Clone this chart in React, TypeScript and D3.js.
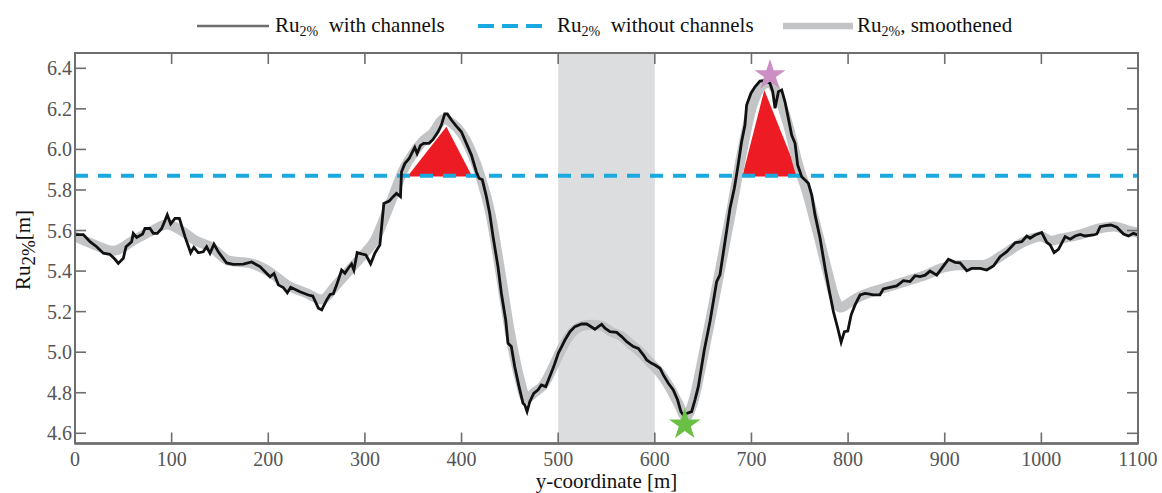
import React, { useRef, useEffect } from "react";
import * as d3 from "d3";

// y-coordinate [m] along the profile and Ru2% with channels [m]
const yCoord = [
  0, 8.6, 15.5, 22.4, 29.3, 36, 41.4, 44.8, 50, 52.8, 58.6, 60.3, 63.8, 70, 72.4, 77.6, 81, 85.2, 89.7, 95.5,
  99, 103.5, 108, 113.8, 119.7, 123, 127.6, 132.7, 136.2, 139.7, 143.8, 148.3, 156.9, 163.8, 174.2, 182.8, 191.4, 201.8, 205.9, 210.4,
  215.5, 219.7, 223.2, 232.8, 241.4, 246, 251.9, 255.3, 260.5, 264, 267.3, 270.8, 275.9, 279.3, 282.8, 286.2, 288.6, 292, 296.5, 301,
  305.9, 310.3, 315.5, 319.6, 325.1, 329.2, 332.7, 336.8, 337.9, 341.3, 345.8, 349.2, 351.6, 354, 357.5, 360.9, 366.4, 370.5, 375.7, 379.1,
  382.6, 385.3, 389.5, 394.6, 399.8, 405, 410.2, 415.3, 418.1, 421.5, 425.7, 429.1, 432.6, 437.7, 441.2, 445.7, 448.1, 451.5, 455, 459.5,
  463.6, 465.4, 467.8, 470.6, 474.7, 479.2, 482.6, 487.1, 491.2, 495.4, 500.1, 503.6, 507, 512.2, 517.3, 524.2, 529.4, 532.9, 538, 541.5,
  545, 548.4, 553.6, 560.5, 565.7, 570.9, 577.8, 582.9, 588.1, 591.6, 596.7, 600.2, 605.3, 608.8, 614, 619.1, 623.6, 627, 629.5, 632.9,
  638.1, 641.5, 645, 651.2, 657.1, 664, 667.4, 672.6, 677.8, 682.3, 685.7, 689.8, 693.3, 695, 699.5, 703.7, 708.8, 714, 719.2, 722,
  724.4, 727.9, 731.3, 734.7, 738.2, 741.6, 745.1, 747.8, 752, 758.9, 762.4, 765.8, 771, 776.2, 780.7, 784.8, 789.3, 792.8, 796.2, 799.7,
  803.1, 807.2, 812.4, 817.5, 820.9, 826.1, 833, 836.5, 843.4, 850.3, 857.2, 864.1, 869.3, 874.5, 879.7, 884.8, 891.7, 903.8, 910.7, 915.9,
  922.8, 928, 936.6, 943.5, 950.4, 957.3, 964.2, 972.8, 979.7, 984.9, 988.3, 993.5, 1000.4, 1005.6, 1009.1, 1013.2, 1017.7, 1024.6, 1029.8, 1035,
  1040.2, 1045.3, 1054, 1057.4, 1060.9, 1066, 1071.9, 1078.1, 1085, 1090.2, 1095.3, 1100,
];
const ruWith = [
  5.58, 5.58, 5.545, 5.52, 5.488, 5.483, 5.458, 5.438, 5.463, 5.52, 5.545, 5.586, 5.566, 5.583, 5.61, 5.61, 5.586, 5.586, 5.61, 5.677,
  5.633, 5.66, 5.66, 5.57, 5.49, 5.517, 5.49, 5.495, 5.52, 5.488, 5.533, 5.495, 5.44, 5.433, 5.434, 5.445, 5.422, 5.372, 5.388, 5.332,
  5.319, 5.293, 5.32, 5.298, 5.282, 5.277, 5.217, 5.209, 5.258, 5.285, 5.288, 5.332, 5.405, 5.389, 5.414, 5.435, 5.405, 5.491, 5.485, 5.48,
  5.435, 5.488, 5.529, 5.734, 5.745, 5.767, 5.783, 5.767, 5.89, 5.93, 5.955, 5.988, 6.01, 5.98, 6.02, 6.03, 6.03, 6.049, 6.087, 6.12,
  6.175, 6.175, 6.145, 6.115, 6.087, 6.03, 5.972, 5.89, 5.858, 5.85, 5.767, 5.685, 5.57, 5.422, 5.291, 5.159, 5.044, 5.028, 4.929, 4.83,
  4.748, 4.74, 4.707, 4.756, 4.797, 4.814, 4.838, 4.83, 4.879, 4.929, 4.995, 5.028, 5.06, 5.101, 5.126, 5.139, 5.139, 5.129, 5.113, 5.126,
  5.137, 5.118, 5.101, 5.098, 5.077, 5.052, 5.028, 5.019, 4.987, 4.962, 4.945, 4.937, 4.921, 4.888, 4.847, 4.814, 4.764, 4.707, 4.69, 4.698,
  4.707, 4.764, 4.83, 5.011, 5.151, 5.348, 5.381, 5.545, 5.71, 5.808, 5.907, 6.038, 6.12, 6.219, 6.277, 6.309, 6.337, 6.34, 6.326, 6.285,
  6.203, 6.285, 6.293, 6.235, 6.153, 6.071, 6.03, 5.923, 5.865, 5.833, 5.775, 5.677, 5.562, 5.414, 5.298, 5.2, 5.118, 5.049, 5.101, 5.104,
  5.183, 5.233, 5.282, 5.29, 5.288, 5.283, 5.283, 5.312, 5.32, 5.327, 5.353, 5.348, 5.377, 5.373, 5.38, 5.4, 5.38, 5.458, 5.443, 5.441,
  5.402, 5.413, 5.413, 5.405, 5.425, 5.471, 5.496, 5.54, 5.545, 5.573, 5.562, 5.578, 5.59, 5.542, 5.529, 5.491, 5.507, 5.57, 5.557, 5.573,
  5.581, 5.573, 5.578, 5.583, 5.619, 5.624, 5.627, 5.616, 5.583, 5.573, 5.586, 5.578,
];

// smoothened curve
const smoothX = [
  0, 20, 40, 60, 80, 95, 110, 125, 140, 160, 180, 200, 220, 240, 255, 270, 285, 300, 310, 320,
  330, 340, 350, 360, 370, 382, 390, 400, 410, 420, 430, 440, 450, 460, 467, 475, 485, 495, 505, 515,
  525, 535, 545, 555, 565, 575, 585, 595, 605, 615, 625, 632, 640, 650, 660, 670, 680, 690, 700, 710,
  718, 728, 738, 748, 758, 768, 778, 786, 792, 800, 810, 820, 840, 860, 880, 900, 920, 940, 960, 980,
  1000, 1010, 1020, 1040, 1060, 1075, 1090, 1100,
];
const smoothRu = [
  5.57, 5.53, 5.5, 5.55, 5.6, 5.63, 5.6, 5.55, 5.52, 5.45, 5.44, 5.4, 5.33, 5.29, 5.26, 5.33, 5.41, 5.49, 5.55, 5.66,
  5.78, 5.9, 5.98, 6.04, 6.08, 6.15, 6.13, 6.08, 5.99, 5.86, 5.68, 5.4, 5.1, 4.87, 4.77, 4.8, 4.84, 4.93, 5.03, 5.1,
  5.13, 5.135, 5.13, 5.1, 5.08, 5.04, 5.0, 4.95, 4.9, 4.83, 4.74, 4.68, 4.76, 4.98, 5.22, 5.47, 5.72, 5.98, 6.2, 6.31,
  6.33, 6.26, 6.12, 5.93, 5.78, 5.6, 5.41, 5.27, 5.22, 5.24, 5.27, 5.29, 5.32, 5.35, 5.38, 5.42, 5.43, 5.43, 5.48, 5.54,
  5.57, 5.55, 5.56, 5.58, 5.61, 5.62, 5.6, 5.59,
];

const ruWithout = 5.87;
const channelZone = [500, 600];

// red exceedance triangles: [y-coordinate, Ru]
const exceedLeft = [[344, 5.867], [384.3, 6.112], [411, 5.867]];
const exceedRight = [[690.5, 5.867], [713.3, 6.293], [749.1, 5.867]];

const maxStar = [719.2, 6.366];
const minStar = [631, 4.643];

const xTicks = [0, 100, 200, 300, 400, 500, 600, 700, 800, 900, 1000, 1100];
const yTicks = [4.6, 4.8, 5.0, 5.2, 5.4, 5.6, 5.8, 6.0, 6.2, 6.4];

const App = () => {
  const ref = useRef<SVGSVGElement>(null);

  useEffect(() => {
    document.body.style.margin = "0";
    const svg = d3.select(ref.current);
    svg.selectAll("*").remove();

    const width = 1162;
    const height = 493;
    const left = 75, right = 1138, top = 53, bottom = 443.5;
    const font = "'Liberation Serif', 'Times New Roman', Times, 'DejaVu Serif', serif";
    const axisGrey = "#6e6e6e";

    const x = d3.scaleLinear().domain([0, 1100]).range([left, right]);
    const y = d3.scaleLinear().domain([4.6, 6.4]).range([433.3, 68.3]);

    svg.attr("width", width).attr("height", height);

    svg.append("clipPath").attr("id", "plotclip")
      .append("rect").attr("x", left).attr("y", top).attr("width", right - left).attr("height", bottom - top);

    // channel zone
    svg.append("rect")
      .attr("x", x(channelZone[0]))
      .attr("y", top)
      .attr("width", x(channelZone[1]) - x(channelZone[0]))
      .attr("height", bottom - top)
      .attr("fill", "#dcdddf");

    const tri = d3.line<number[]>().x(d => x(d[0])).y(d => y(d[1]));
    [exceedLeft, exceedRight].forEach(t => {
      svg.append("path").attr("d", tri(t) + "Z").attr("fill", "#ed1c24");
    });

    const smoothLine = d3.line<number>().x((d, i) => x(smoothX[i])).y(d => y(d)).curve(d3.curveMonotoneX);
    svg.append("path")
      .attr("d", smoothLine(smoothRu))
      .attr("clip-path", "url(#plotclip)")
      .attr("fill", "none")
      .attr("stroke", "#c2c4c6")
      .attr("stroke-width", 10)
      .attr("stroke-linejoin", "round")
      .attr("stroke-linecap", "round");

    svg.append("line")
      .attr("x1", left).attr("x2", right)
      .attr("y1", y(ruWithout)).attr("y2", y(ruWithout))
      .attr("stroke", "#1aa9df")
      .attr("stroke-width", 4)
      .attr("stroke-dasharray", "13 10");

    const rawLine = d3.line<number>().x((d, i) => x(yCoord[i])).y(d => y(d));
    svg.append("path")
      .attr("d", rawLine(ruWith))
      .attr("fill", "none")
      .attr("stroke", "#111")
      .attr("stroke-width", 2.8)
      .attr("stroke-linejoin", "miter");

    const star = (r: number) => d3.symbol().type(d3.symbolStar).size((r * r) / 0.8908130915292852)();
    svg.append("path")
      .attr("d", star(16.3))
      .attr("transform", `translate(${x(maxStar[0])},${y(maxStar[1])})`)
      .attr("fill", "#cc8fc3");
    svg.append("path")
      .attr("d", star(16.6))
      .attr("transform", `translate(${x(minStar[0])},${y(minStar[1])})`)
      .attr("fill", "#6abf45");

    // frame and inward ticks
    svg.append("rect")
      .attr("x", left).attr("y", top)
      .attr("width", right - left).attr("height", bottom - top)
      .attr("fill", "none")
      .attr("stroke", axisGrey)
      .attr("stroke-width", 2);
    svg.append("line").attr("x1", left).attr("x2", right).attr("y1", bottom).attr("y2", bottom)
      .attr("stroke", axisGrey).attr("stroke-width", 2.6);

    const tl = 11;
    const labels = svg.append("g").style("font-family", font);
    xTicks.forEach(t => {
      svg.append("line").attr("x1", x(t)).attr("x2", x(t)).attr("y1", bottom).attr("y2", bottom - tl)
        .attr("stroke", axisGrey).attr("stroke-width", 1.6);
      svg.append("line").attr("x1", x(t)).attr("x2", x(t)).attr("y1", top).attr("y2", top + tl)
        .attr("stroke", axisGrey).attr("stroke-width", 1.6);
      labels.append("text")
        .attr("x", x(t)).attr("y", 466)
        .attr("text-anchor", "middle")
        .style("font-size", "20px")
        .attr("fill", "#555")
        .text(t);
    });
    yTicks.forEach(t => {
      svg.append("line").attr("x1", left).attr("x2", left + tl).attr("y1", y(t)).attr("y2", y(t))
        .attr("stroke", axisGrey).attr("stroke-width", 1.6);
      svg.append("line").attr("x1", right).attr("x2", right - tl).attr("y1", y(t)).attr("y2", y(t))
        .attr("stroke", axisGrey).attr("stroke-width", 1.6);
      labels.append("text")
        .attr("x", 72).attr("y", y(t) + 7)
        .attr("text-anchor", "end")
        .style("font-size", "20px")
        .attr("fill", "#555")
        .text(t.toFixed(1));
    });

    // axis titles
    labels.append("text")
      .attr("x", (left + right) / 2).attr("y", 488)
      .attr("text-anchor", "middle")
      .style("font-size", "21px")
      .attr("fill", "#111")
      .text("y-coordinate [m]");

    const yl = labels.append("text")
      .attr("transform", "translate(30,250) rotate(-90)")
      .attr("text-anchor", "middle")
      .style("font-size", "21px")
      .attr("fill", "#111");
    yl.append("tspan").text("Ru");
    yl.append("tspan").attr("dy", 5).style("font-size", "19px").text("2%");
    yl.append("tspan").attr("dy", -5).text("[m]");

    // legend
    const ly = 26;
    const legendText = (x0: number, rest: string) => {
      const t = labels.append("text").attr("x", x0).attr("y", 32)
        .style("font-size", "21px").attr("fill", "#111");
      t.append("tspan").text("Ru");
      t.append("tspan").attr("dy", 4).style("font-size", "14px").text("2%");
      t.append("tspan").attr("dy", -4).text(rest);
    };
    svg.append("line").attr("x1", 197).attr("x2", 269).attr("y1", ly).attr("y2", ly)
      .attr("stroke", axisGrey).attr("stroke-width", 2.4);
    legendText(275, "\u00a0 with channels");
    svg.append("line").attr("x1", 478).attr("x2", 542).attr("y1", ly).attr("y2", ly)
      .attr("stroke", "#1aa9df").attr("stroke-width", 4).attr("stroke-dasharray", "16 8");
    legendText(557, "\u00a0 without channels");
    svg.append("line").attr("x1", 783).attr("x2", 853).attr("y1", ly).attr("y2", ly)
      .attr("stroke", "#c2c4c6").attr("stroke-width", 6.5);
    legendText(857, ", smoothened");
  }, []);

  return <svg ref={ref} style={{ display: "block" }}></svg>;
};

export default App;
